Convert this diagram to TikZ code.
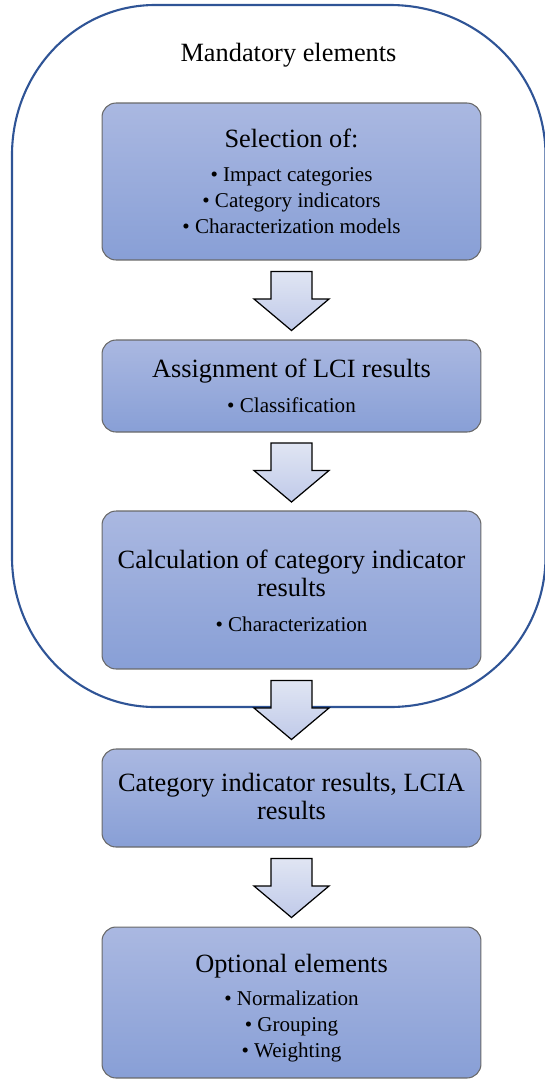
\documentclass[tikz,border=0pt]{standalone}
\usepackage{fontspec}
\setmainfont{Liberation Serif}
\usetikzlibrary{calc}
\definecolor{outerblue}{RGB}{47,84,150}
\definecolor{boxtop}{RGB}{170,184,225}
\definecolor{boxbot}{RGB}{136,159,214}
\definecolor{boxgray}{RGB}{105,105,105}
\definecolor{arrtop}{RGB}{224,229,243}
\definecolor{arrbot}{RGB}{192,202,233}
\newcommand\blockarr[2]{%
  \shadedraw[blockarrow, shift={($(#1.south)!0.5!(#2.north)$)}]
    (-20.5,-28.5) -- (20.5,-28.5) -- (20.5,-1) -- (37.5,-1) -- (0,30.5)
    -- (-37.5,-1) -- (-20.5,-1) -- cycle;}
\begin{document}
\begin{tikzpicture}[x=0.02cm,y=-0.02cm,
  box/.style={draw=boxgray, line width=0.6pt, rounded corners=0.28cm,
    top color=boxtop, bottom color=boxbot, minimum width=7.58cm,
    inner sep=0pt, outer sep=0pt},
  head/.style={anchor=base, inner sep=0pt, font=\fontsize{15}{16}\selectfont},
  item/.style={anchor=base, inner sep=0pt, font=\fontsize{12}{14}\selectfont},
  blockarrow/.style={draw=black, line width=0.7pt, line join=miter,
    top color=arrtop, bottom color=arrbot},
  frame/.style={draw=outerblue, line width=1.2pt}]
\useasboundingbox (0,0) rectangle (545,1080);

% outer frame (mandatory elements)
\draw[frame] (12,300) -- (12,155) .. controls (12,72) and (76,5) .. (155,5)
  -- (390,5) .. controls (476,5) and (545.5,72) .. (545.5,155)
  -- (545.5,557) .. controls (545.5,640) and (476,707) .. (390,707)
  -- (155,707) .. controls (76,707) and (12,640) .. (12,557) -- cycle;
\node[head] (mand) at (288.5,61) {Mandatory elements};

% boxes
\node[box, minimum height=3.14cm] (b1) at (291.5,181.5) {};
\node[box, minimum height=1.84cm] (b2) at (291.5,386) {};
\node[box, minimum height=3.16cm] (b3) at (291.5,590) {};
\node[box, minimum height=1.96cm] (b4) at (291.5,798) {};
\node[box, minimum height=3.02cm] (b5) at (291.5,1002.5) {};

% texts
\node[head] (t1) at (291.5,147) {Selection of:};
\node[item] (t1a) at (291.5,181) {•~Impact categories};
\node[item] (t1b) at (291.5,207) {•~Category indicators};
\node[item] (t1c) at (291.5,233) {•~Characterization models};

\node[head] (t2) at (291.5,377) {Assignment of LCI results};
\node[item] (t2a) at (291.5,412) {•~Classification};

\node[head] (t3) at (291.5,568) {Calculation of category indicator};
\node[head] (t3b) at (291.5,596) {results};
\node[item] (t3a) at (291.5,631) {•~Characterization};

\node[head] (t4) at (291.5,791) {Category indicator results, LCIA};
\node[head] (t4b) at (291.5,819) {results};

\node[head] (t5) at (291.5,972) {Optional elements};
\node[item] (t5a) at (291.5,1005) {•~Normalization};
\node[item] (t5b) at (291.5,1031) {•~Grouping};
\node[item] (t5c) at (291.5,1057) {•~Weighting};

% block arrows
\blockarr{b1}{b2}
\blockarr{b2}{b3}
\blockarr{b3}{b4}
\blockarr{b4}{b5}
\end{tikzpicture}
\end{document}
